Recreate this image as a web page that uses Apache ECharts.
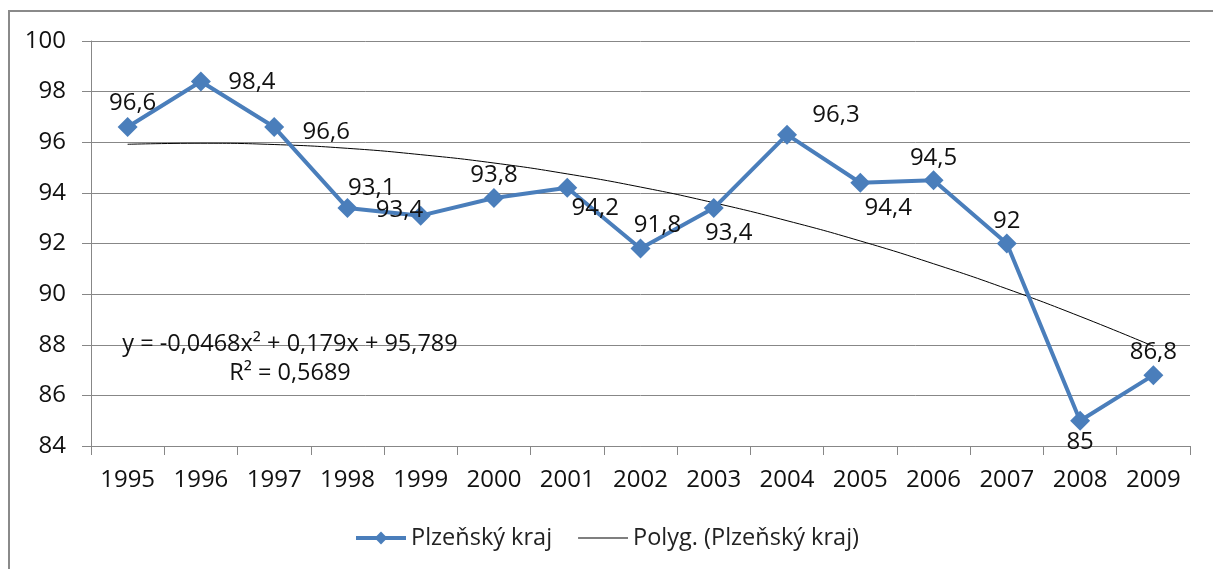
<!DOCTYPE html>
<html>
<head>
<meta charset="utf-8">
<script src="https://cdn.jsdelivr.net/npm/echarts@6/dist/echarts.min.js"></script>
<style>
html,body{margin:0;padding:0;background:#fff;}
#chart{width:1213px;height:569px;}
</style>
</head>
<body>
<div id="chart"></div>
<script>
const categories = ['1995','1996','1997','1998','1999','2000','2001','2002','2003','2004','2005','2006','2007','2008','2009'];
const values = [96.6, 98.4, 96.6, 93.4, 93.1, 93.8, 94.2, 91.8, 93.4, 96.3, 94.4, 94.5, 92, 85, 86.8];
const trendValues = [95.92, 95.96, 95.91, 95.76, 95.51, 95.18, 94.75, 94.23, 93.61, 92.90, 92.10, 91.20, 90.21, 89.12, 87.94];
const seriesName = 'Plzeňský kraj';
const trendName = 'Polyg. (Plzeňský kraj)';
const yTicks = { min: 84, max: 100, interval: 2 };
const equationText = 'y = -0,0468x² + 0,179x + 95,789\nR² = 0,5689';

// label offsets (layout only)
const labelOffsets = [[5,-24],[51,1],[52,5],[52,2],[-49,-28],[0,-23],[28,20],[17,-23],[15,25],[49,-20],[28,25],[0,-22],[0,-22],[0,21],[0,-23]];

const FONT = 'Open Sans';
const blue = '#4a7ebb';
const chart = echarts.init(document.getElementById('chart'));
chart.setOption({
  animation: false,
  textStyle: { fontFamily: FONT },
  grid: { left: 91, right: 23, top: 41, bottom: 123 },
  legend: {
    bottom: 14,
    left: 'center',
    itemWidth: 50,
    itemHeight: 16,
    itemGap: 26,
    textStyle: { fontSize: 23.5, color: '#222', fontFamily: FONT },
    data: [
      { name: seriesName, lineStyle: { width: 4 } },
      { name: trendName, icon: 'path://M0,0H50V1H0Z' }
    ]
  },
  xAxis: {
    type: 'category',
    data: categories,
    boundaryGap: true,
    axisLine: { lineStyle: { color: '#878787', width: 1 } },
    axisTick: { show: true, length: 9, lineStyle: { color: '#878787' } },
    axisLabel: { fontSize: 24, color: '#111', margin: 22, fontFamily: FONT }
  },
  yAxis: {
    type: 'value',
    min: yTicks.min, max: yTicks.max, interval: yTicks.interval,
    axisLine: { show: true, lineStyle: { color: '#878787', width: 1 } },
    axisTick: { show: true, length: 9, lineStyle: { color: '#878787' } },
    splitLine: { lineStyle: { color: '#878787', width: 1 } },
    axisLabel: { fontSize: 24, color: '#111', margin: 25, fontFamily: FONT }
  },
  series: [
    {
      name: seriesName,
      type: 'line',
      data: values.map((v, i) => ({
        value: v,
        label: { offset: labelOffsets[i] }
      })),
      symbol: 'diamond',
      symbolSize: 20,
      itemStyle: { color: blue },
      lineStyle: { color: blue, width: 4 },
      label: {
        show: true,
        position: 'inside',
        fontSize: 24,
        color: '#111',
        fontFamily: FONT,
        formatter: p => String(p.value).replace('.', ',')
      },
      z: 3
    },
    {
      name: trendName,
      type: 'line',
      data: trendValues,
      smooth: true,
      symbol: 'none',
      itemStyle: { color: '#000' },
      lineStyle: { color: '#000', width: 1 },
      z: 2
    }
  ],
  graphic: [
    {
      type: 'rect',
      shape: { x: 9, y: 11, width: 1400, height: 800 },
      style: { fill: 'none', stroke: '#8a8a8a', lineWidth: 2 },
      silent: true
    },
    {
      type: 'text',
      x: 290, y: 330,
      style: {
        text: equationText,
        align: 'center',
        textAlign: 'center',
        fontSize: 23.5,
        lineHeight: 29,
        fill: '#111',
        fontFamily: FONT
      },
      z: 10
    }
  ]
});
</script>
</body>
</html>
